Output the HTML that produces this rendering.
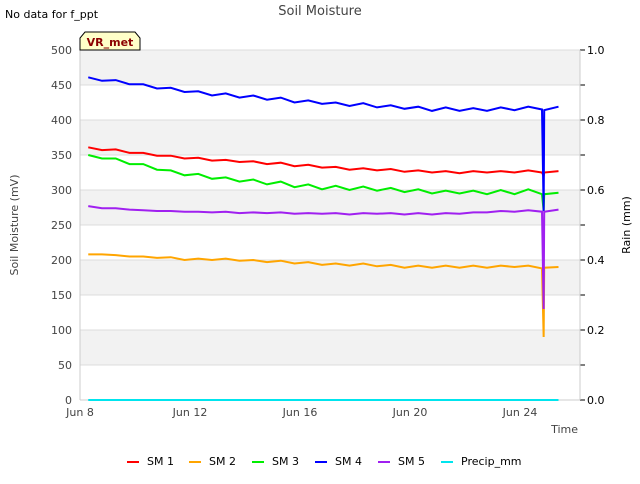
<!DOCTYPE html>
<html><head><meta charset="utf-8"><style>
body{margin:0;background:#fff;font-family:"DejaVu Sans","Liberation Sans",sans-serif;}
svg text{font-family:"DejaVu Sans","Liberation Sans",sans-serif;}
</style></head><body>
<svg id="c" width="640" height="480" xmlns="http://www.w3.org/2000/svg">
<rect width="640" height="480" fill="#fff"/>
<text x="5" y="18" font-size="11" fill="#000">No data for f_ppt</text>
<text x="320" y="15" font-size="13" fill="#444" text-anchor="middle">Soil Moisture</text>
<g id="bands"></g>
<g id="axes"></g>
<g id="series"></g>
<g>
<path d="M80,50 L80,38 L85,32 L135,32 L140,38 L140,50 Z" fill="#ffffc8" stroke="#000" stroke-width="1"/>
<text x="110" y="46" font-size="11" font-weight="bold" fill="#8b0000" text-anchor="middle">VR_met</text>
</g>
<text x="18" y="225" font-size="11" fill="#444" text-anchor="middle" transform="rotate(-90 18 225)">Soil Moisture (mV)</text>
<text x="630" y="225" font-size="11" fill="#000" text-anchor="middle" transform="rotate(-90 630 225)">Rain (mm)</text>
<text x="578" y="433" font-size="11" fill="#444" text-anchor="end">Time</text>
<g id="legend"></g>
</svg>
<script>
const times=[8.3,8.8,9.3,9.8,10.3,10.8,11.3,11.8,12.3,12.8,13.3,13.8,14.3,14.8,15.3,15.8,16.3,16.8,17.3,17.8,18.3,18.8,19.3,19.8,20.3,20.8,21.3,21.8,22.3,22.8,23.3,23.8,24.3,24.8,24.86,24.88,25.4];
const sm1=[361,357,358,353,353,349,349,345,346,342,343,340,341,337,339,334,336,332,333,329,331,328,330,326,328,325,327,324,327,325,327,325,328,325,320,325,327];
const sm2=[208,208,207,205,205,203,204,200,202,200,202,199,200,197,199,195,197,193,195,192,195,191,193,189,192,189,192,189,192,189,192,190,192,188,90,189,190];
const sm3=[350,345,345,337,337,329,328,321,323,316,318,312,315,308,312,304,308,301,306,300,305,299,303,297,301,295,299,295,299,294,300,294,301,294,270,294,296];
const sm4=[461,456,457,451,451,445,446,440,441,435,438,432,435,429,432,425,428,423,425,420,424,418,421,416,419,413,418,413,417,413,418,414,419,415,270,414,419];
const sm5=[277,274,274,272,271,270,270,269,269,268,269,267,268,267,268,266,267,266,267,265,267,266,267,265,267,265,267,266,268,268,270,269,271,269,130,269,272];
const precip=[0,0];
const precipTimes=[8.3,25.4];
const yTicks=[0,50,100,150,200,250,300,350,400,450,500];
const y2Ticks=["0.0","0.2","0.4","0.6","0.8","1.0"];
const xTickDays=[8,12,16,20,24];
const xTickLabels=["Jun 8","Jun 12","Jun 16","Jun 20","Jun 24"];
const names=["SM 1","SM 2","SM 3","SM 4","SM 5","Precip_mm"];
const colors=["#ff0000","#ffa500","#00ee00","#0000ff","#a020f0","#00e5ee"];

const NS="http://www.w3.org/2000/svg";
const X0=80,X1=580,Y0=400,Y1=50;
const xs=d=>X0+(d-8)*27.5;
const ys=v=>Y0-(v/500)*(Y0-Y1);
const y2s=v=>Y0-v*(Y0-Y1);
function mk(t,a,p){const e=document.createElementNS(NS,t);for(const k in a)e.setAttribute(k,a[k]);p.appendChild(e);return e;}
const bands=document.getElementById('bands'),axes=document.getElementById('axes'),ser=document.getElementById('series'),leg=document.getElementById('legend');
for(let i=0;i<yTicks.length-1;i++){
  const lo=yTicks[i],hi=yTicks[i+1];
  const r=mk('rect',{x:X0,y:ys(hi),width:X1-X0,height:ys(lo)-ys(hi),fill:(i%2===1)?'#f2f2f2':'#ffffff'},bands);
  
  
}
yTicks.forEach(v=>{
  const l=mk('line',{x1:X0,x2:X1,y1:ys(v),y2:ys(v),stroke:'#dcdcdc','stroke-width':1},axes);
  
  
  const t=mk('text',{x:72,y:ys(v)+4,'font-size':11,fill:'#444','text-anchor':'end'},axes);t.textContent=v;
  
  
});
y2Ticks.forEach(s=>{
  const v=parseFloat(s);
  const t=mk('text',{x:587,y:y2s(v)+4,'font-size':11,fill:'#000'},axes);t.textContent=s;
  
  
});
for(let k=0;k<=10;k++){
  const tk=mk('line',{x1:X1,x2:X1+5,y1:y2s(k/10),y2:y2s(k/10),stroke:'#000'},axes);
  
  
}
mk('line',{x1:X0,x2:X0,y1:Y1,y2:Y0,stroke:'#ccc'},axes);
mk('line',{x1:X1,x2:X1,y1:Y1,y2:Y0,stroke:'#ccc'},axes);
mk('line',{x1:X0,x2:X1,y1:Y0,y2:Y0,stroke:'#ccc'},axes);
xTickDays.forEach((d,i)=>{
  const t=mk('text',{x:xs(d),y:416,'font-size':11,fill:'#444','text-anchor':'middle'},axes);t.textContent=xTickLabels[i];
  
  
});
const all=[sm1,sm2,sm3,sm4,sm5];
all.forEach((arr,si)=>{
  const p=mk('polyline',{points:arr.map((v,i)=>xs(times[i])+','+ys(v)).join(' '),fill:'none',stroke:colors[si],'stroke-width':2},ser);
  
  
});
const pp=mk('polyline',{points:precip.map((v,i)=>xs(precipTimes[i])+','+y2s(v)).join(' '),fill:'none',stroke:colors[5],'stroke-width':2},ser);


const lx=[127,189,252,315,378,441];
names.forEach((n,i)=>{
  const g=mk('g',{},leg);
  
  
  mk('line',{x1:lx[i],x2:lx[i]+12,y1:462,y2:462,stroke:colors[i],'stroke-width':2},g);
  const t=mk('text',{x:lx[i]+20,y:465,'font-size':11,fill:'#000'},g);t.textContent=n;
});
</script>
</body></html>
